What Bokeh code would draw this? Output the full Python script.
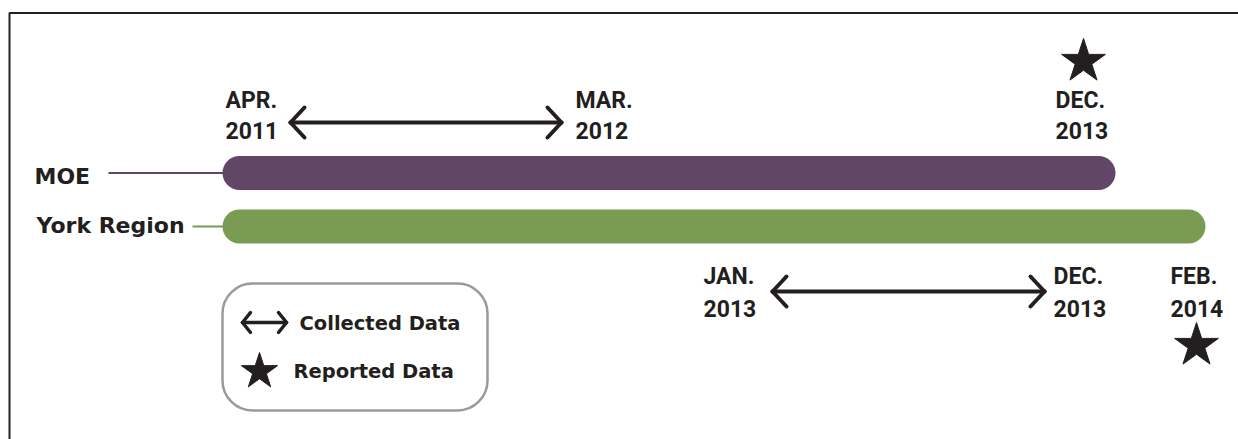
from bokeh.plotting import figure
from bokeh.models import Range1d, BoxAnnotation
from bokeh.core.properties import value
from bokeh.embed import file_html
from bokeh.resources import INLINE

# ---------------- data ----------------
series = ["MOE", "York Region"]
series_start = ["APR. 2011", "APR. 2011"]
series_end = ["DEC. 2013", "FEB. 2014"]
collected_start = ["APR. 2011", "JAN. 2013"]
collected_end = ["MAR. 2012", "DEC. 2013"]
reported = ["DEC. 2013", "FEB. 2014"]
legend_labels = ["Collected Data", "Reported Data"]

# ---------------- layout (schematic timeline, not to scale) ----------------
BAR_X = {"APR. 2011": 222, "DEC. 2013": 1115, "FEB. 2014": 1205}
ROW_Y = [172.5, 226]
BAR_H = 34
CONNECT_X0 = [108, 192]
NAME_X = [34, 36]
NAME_BASE = [176, 225]
ARROW_X = [(290, 561), (772, 1044)]
ARROW_Y = [122, 291]
LABEL_X = [[225, 575, 1055], [703, 1053, 1170]]
LABEL_BASE = [(100, 130), (276, 308)]
STAR_XY = [(1083, 61), (1196, 345)]
STAR_SIZE = 46
LEGEND_BASE = [323, 371]

INK = "#231f20"
COLORS = ["#614668", "#7a9c52"]
DATE_FONT = value("Roboto")
NAME_FONT = value("DejaVu Sans")

p = figure(width=1238, height=439, x_range=Range1d(0, 1238), y_range=Range1d(439, 0),
           output_backend="svg", toolbar_location=None, min_border=0,
           x_axis_location=None, y_axis_location=None)
p.grid.visible = False
p.outline_line_color = None
p.background_fill_color = "white"

# frame lines (left and top)
p.line(x=[9, 9, 1238], y=[439, 12.5, 12.5], line_color=INK, line_width=2)

# legend box (drawn underneath its glyphs)
p.add_layout(BoxAnnotation(left=222, right=487, top=283, bottom=410, border_radius=30,
                           fill_color="white", fill_alpha=1, line_color="#9a9a9c",
                           line_alpha=1, line_width=2.5, level="underlay"))

# bars + connectors + names
for i, name in enumerate(series):
    x0 = BAR_X[series_start[i]]
    x1 = BAR_X[series_end[i]]
    y = ROW_Y[i]
    p.segment(x0=[CONNECT_X0[i]], x1=[x0 + 2], y0=[y], y1=[y], line_color=COLORS[i], line_width=2)
    p.segment(x0=[x0 + BAR_H / 2], x1=[x1 - BAR_H / 2], y0=[y], y1=[y],
              line_color=COLORS[i], line_width=BAR_H, line_cap="round")
    p.text(x=[NAME_X[i]], y=[NAME_BASE[i]], text=[name], text_font=NAME_FONT,
           text_font_style="bold", text_font_size="22px", text_color=INK,
           text_baseline="alphabetic", text_align="left")


def double_arrow(xa, xb, y, dx, dy, lw):
    p.segment(x0=[xa], x1=[xb], y0=[y], y1=[y], line_color=INK, line_width=lw, line_cap="round")
    xs0 = [xa, xa, xb, xb]
    ys0 = [y, y, y, y]
    xs1 = [xa + dx, xa + dx, xb - dx, xb - dx]
    ys1 = [y - dy, y + dy, y - dy, y + dy]
    p.segment(x0=xs0, y0=ys0, x1=xs1, y1=ys1, line_color=INK, line_width=lw, line_cap="round")


# collected-data arrows and date labels
for i in range(len(series)):
    xa, xb = ARROW_X[i]
    double_arrow(xa, xb, ARROW_Y[i], 14, 15, 4)
    labels = [collected_start[i], collected_end[i], reported[i]]
    months = [s.split(" ")[0] for s in labels]
    years = [s.split(" ")[1] for s in labels]
    b1, b2 = LABEL_BASE[i]
    p.text(x=LABEL_X[i], y=[b1] * 3, text=months, text_font=DATE_FONT, text_font_style="bold",
           text_font_size="23px", text_color=INK, text_baseline="alphabetic")
    p.text(x=LABEL_X[i], y=[b2] * 3, text=years, text_font=DATE_FONT, text_font_style="bold",
           text_font_size="23px", text_color=INK, text_baseline="alphabetic")

# reported-data stars
p.scatter(x=[s[0] for s in STAR_XY], y=[s[1] for s in STAR_XY], marker="star",
          size=STAR_SIZE, fill_color=INK, line_color=INK)

# legend content
double_arrow(242, 286, 322, 8, 10, 3.5)
p.scatter(x=[259], y=[371], marker="star", size=38, fill_color=INK, line_color=INK)
p.text(x=[299, 293], y=LEGEND_BASE, text=legend_labels, text_font=NAME_FONT, text_font_style="bold",
       text_font_size="19.5px", text_color=INK, text_baseline="alphabetic")

open("out.html", "w").write(file_html(p, INLINE))
